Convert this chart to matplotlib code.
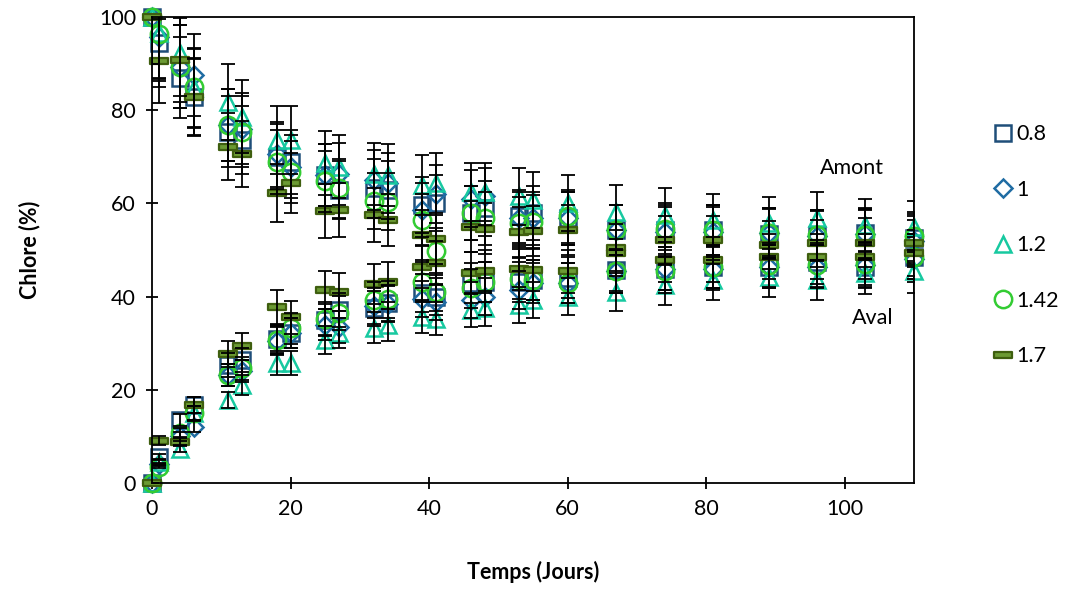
import matplotlib.pyplot as plt
from matplotlib.lines import Line2D
from matplotlib.path import Path

plt.rcParams['font.family'] = ['Lato', 'DejaVu Sans']

# temps de prélèvement (jours)
temps = [0, 1, 4, 6, 11, 13, 18, 20, 25, 27, 32, 34, 39, 41, 46, 48, 53, 55, 60,
         67, 74, 81, 89, 96, 103, 110]

series = ['0.8', '1', '1.2', '1.42', '1.7']

# chlore amont (%)
amont_08 = [100, 94.4, 87, 82.9, 75.4, 73.6, 70, 68.9, 66.1, 62.9, 63.3, 62.9, 59.7, 60,
            57.9, 59, 57.2, 57.9, 56.8, 54.3, 54.2, 54.3, 53.4, 53.2, 53.6, 52.5]
amont_1 = [100, 95.8, 89.3, 87.6, 76.8, 76, 70.5, 67.9, 66.1, 66.4, 65, 64.4, 58.6, 62,
           61, 61.5, 56.8, 56.8, 56.8, 54.3, 53.9, 53.9, 53.6, 53.0, 53.4, 52.0]
amont_12 = [100, 96.5, 92.2, 84.7, 81.8, 78.6, 73.6, 73.6, 68.6, 67.9, 66.4, 66.1, 63.9, 64.3,
            62.5, 62.5, 61.5, 60.7, 60, 58.2, 57.5, 56.4, 55.7, 56.8, 55.4, 55]
amont_142 = [100, 96.3, 89.3, 84.9, 76.8, 75.4, 68.9, 66.8, 64.7, 63.2, 60.5, 60.4, 56.4, 49.7,
             57.9, 56.8, 55.7, 56.1, 57.2, 54.3, 54.6, 54.3, 53.6, 53.2, 53.2, 52.9]
amont_17 = [100, 90.6, 90.8, 82.8, 72.2, 70.6, 62.2, 64.3, 58.4, 58.6, 57.5, 56.4, 53.2, 52.3,
            55, 54.6, 53.9, 54.1, 54.3, 50.5, 52.1, 52.1, 51.1, 51.4, 51.6, 51.4]

# chlore aval (%)
aval_08 = [0, 5.6, 13.5, 16.7, 25.3, 26.4, 31, 32.1, 35, 37.1, 37.5, 38.7, 40.7, 40,
           42.9, 43.2, 43.2, 43.6, 44, 45.7, 46, 46.4, 46.4, 47.5, 46.4, 48.6]
aval_1 = [0, 4, 10, 12.1, 23.2, 24, 30.5, 32.1, 34, 33.5, 38, 38.5, 39.5, 38.8,
          39.3, 40, 41.4, 42.9, 43, 45.4, 46, 46, 46.4, 46.4, 46.8, 48]
aval_12 = [0, 4.6, 7.4, 15, 17.8, 21, 25.7, 25.7, 30.7, 32.1, 33.3, 33.9, 35.7, 35.3,
           37.1, 37.5, 38.2, 39.3, 40, 41, 42.5, 43.6, 44.3, 43.6, 45, 45.4]
aval_142 = [0, 3.5, 10.7, 15, 23.2, 24.6, 30.7, 33.2, 35.3, 36.4, 39.3, 39.4, 43.2, 41,
            41.8, 43.2, 43.8, 43.6, 42.9, 45.4, 45.4, 46.4, 46.8, 46.8, 47.1, 48.6]
aval_17 = [0, 9.1, 8.9, 16.7, 27.7, 29.3, 37.7, 35.6, 41.4, 41, 42.8, 43.2, 46.4, 47.3,
           45, 45.4, 46, 45.7, 45.4, 49.3, 47.9, 47.9, 48.6, 48.6, 48.6, 49.3]

amont = [amont_08, amont_1, amont_12, amont_142, amont_17]
aval = [aval_08, aval_1, aval_12, aval_142, aval_17]

ERR_PCT = 0.10  # barres d'erreur en pourcentage (comme dans Excel)

barre = Path([(-1, -0.3), (1, -0.3), (1, 0.3), (-1, 0.3), (-1, -0.3)],
             [Path.MOVETO, Path.LINETO, Path.LINETO, Path.LINETO, Path.CLOSEPOLY])

styles = [
    dict(marker='s', ms=11, mec='#1F4E79', mfc='none', mew=1.8),
    dict(marker='D', ms=9, mec='#1F6CA3', mfc='none', mew=1.8),
    dict(marker='^', ms=12, mec='#17C9A0', mfc='none', mew=1.8),
    dict(marker='o', ms=12.5, mec='#33CC33', mfc='none', mew=1.8),
    dict(marker=barre, ms=13, mec='#3F5F0F', mfc='#6B9A33', mew=1.6),
]

fig = plt.figure(figsize=(10.66, 5.92), dpi=100)
ax = fig.add_axes([0.1426, 0.1841, 0.7148, 0.7872])

for vals_a, vals_v, st in zip(amont, aval, styles):
    for vals in (vals_a, vals_v):
        ax.plot(temps, vals, linestyle='none', zorder=2, clip_on=False, **st)
        ax.errorbar(temps, vals, yerr=[v * ERR_PCT for v in vals], fmt='none',
                    ecolor='black', elinewidth=1.3, capsize=5, capthick=1.3, zorder=3)

ax.set_xlim(0, 110)
ax.set_ylim(0, 100)
ax.set_xticks(range(0, 101, 20))
ax.set_yticks(range(0, 101, 20))
ax.tick_params(direction='inout', length=9, width=1.3, labelsize=15.5, pad=7)
for s in ax.spines.values():
    s.set_linewidth(1.3)
ax.set_xlabel('Temps (Jours)', fontsize=15.5, fontweight='bold', labelpad=30)
ax.set_ylabel('Chlore (%)', fontsize=15.5, fontweight='bold', labelpad=42)

ax.text(101, 67.6, 'Amont', fontsize=15.5, ha='center', va='center')
ax.text(104, 35.4, 'Aval', fontsize=15.5, ha='center', va='center')

handles = [Line2D([], [], linestyle='none', **st) for st in styles]
fig.legend(handles, series, loc='upper left', bbox_to_anchor=(0.925, 0.805),
           frameon=False, fontsize=15.5, labelspacing=1.65, handlelength=0.8,
           handletextpad=0.2, borderaxespad=0)

fig.savefig('out.png', dpi=100)
